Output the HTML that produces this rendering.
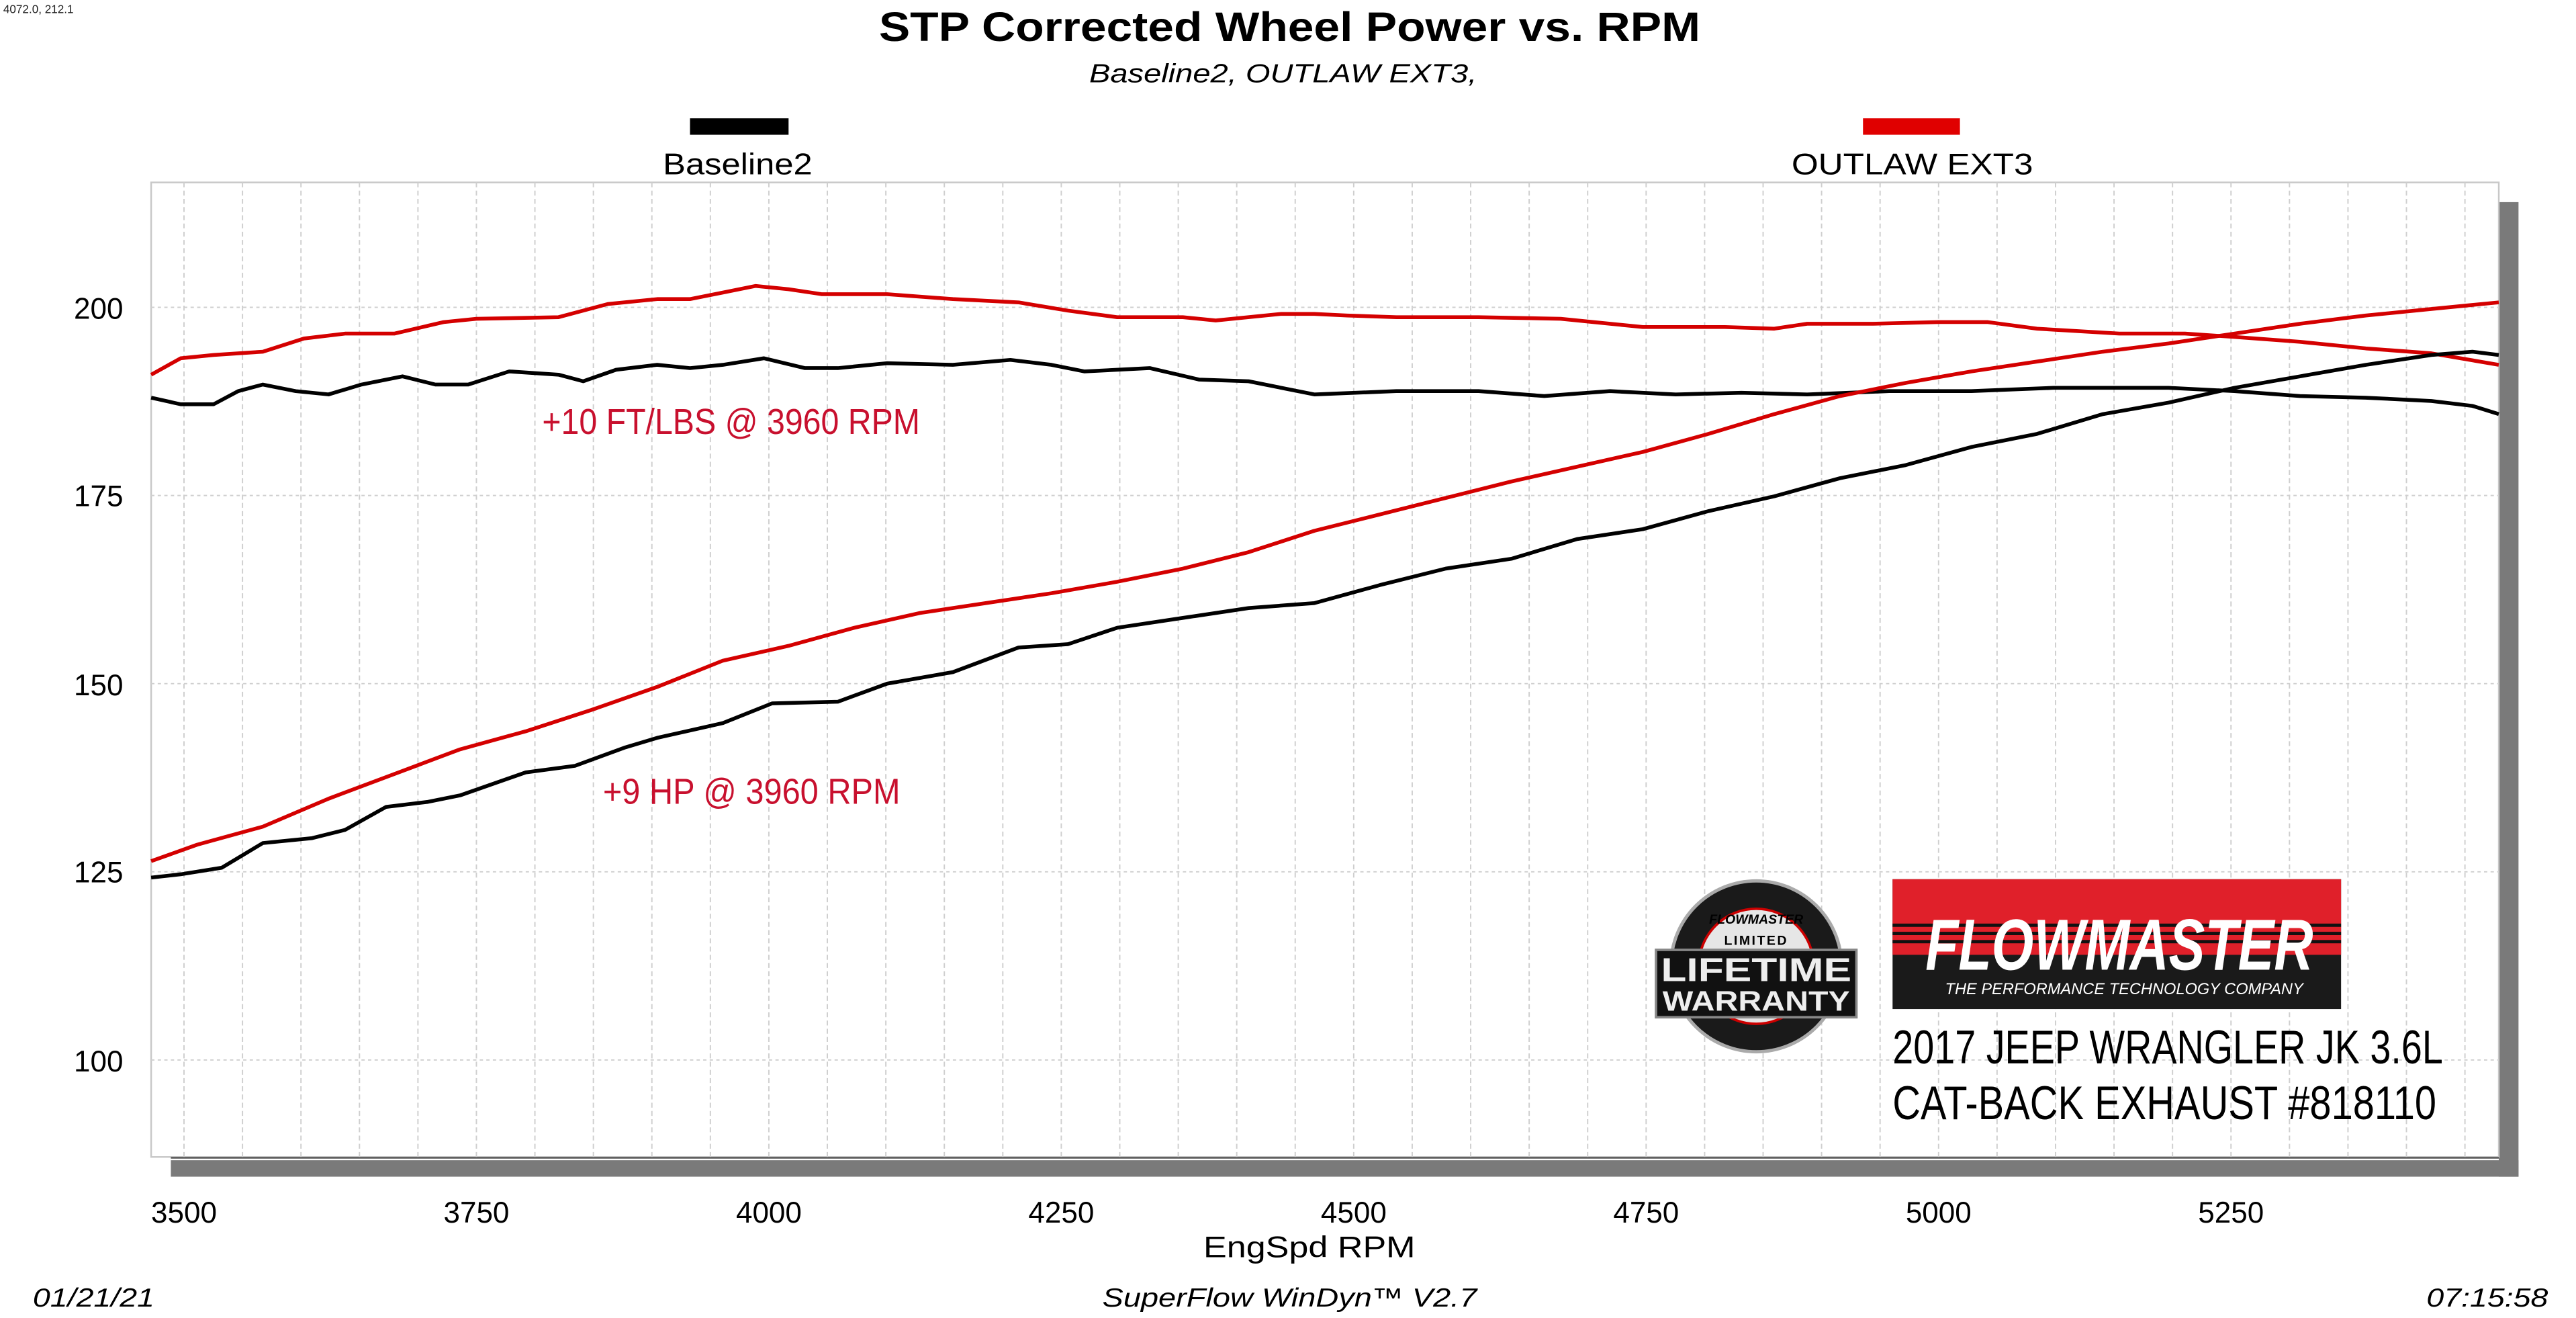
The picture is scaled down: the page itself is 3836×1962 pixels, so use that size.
<!DOCTYPE html>
<html><head><meta charset="utf-8"><style>html,body{margin:0;padding:0;background:#fff}svg{display:block}</style></head>
<body>
<svg width="3836" height="1962" viewBox="0 0 1568 802" preserveAspectRatio="none" xmlns="http://www.w3.org/2000/svg" font-family="Liberation Sans, sans-serif">
<rect width="1568" height="802" fill="#fff"/>
<text x="2" y="8" font-size="7" fill="#222">4072.0, 212.1</text>
<text x="785" y="25" font-size="25" font-weight="bold" text-anchor="middle" textLength="500" lengthAdjust="spacingAndGlyphs">STP Corrected Wheel Power vs. RPM</text>
<text x="781" y="50" font-size="16" font-style="italic" text-anchor="middle" textLength="236" lengthAdjust="spacingAndGlyphs">Baseline2, OUTLAW EXT3,</text>
<rect x="420" y="72" width="60" height="10" fill="#000"/>
<text x="449" y="106" font-size="18" text-anchor="middle" textLength="91" lengthAdjust="spacingAndGlyphs">Baseline2</text>
<rect x="1134" y="72" width="59" height="10" fill="#e00000"/>
<text x="1164" y="106" font-size="18" text-anchor="middle" textLength="147" lengthAdjust="spacingAndGlyphs">OUTLAW EXT3</text>
<rect x="1521" y="123" width="12" height="593" fill="#7a7a7a"/>
<rect x="104" y="706" width="1429" height="10" fill="#7a7a7a"/>
<rect x="92" y="111" width="1429" height="593" fill="#fff" stroke="#c8c8c8" stroke-width="1"/>
<line x1="104" y1="704.5" x2="1521" y2="704.5" stroke="#555" stroke-width="1"/>
<g stroke="#cfcfcf" stroke-width="0.8" stroke-dasharray="3,2">
<line x1="112" y1="111" x2="112" y2="704"/><line x1="147.6" y1="111" x2="147.6" y2="704"/><line x1="183.2" y1="111" x2="183.2" y2="704"/><line x1="218.8" y1="111" x2="218.8" y2="704"/><line x1="254.4" y1="111" x2="254.4" y2="704"/><line x1="290" y1="111" x2="290" y2="704"/><line x1="325.6" y1="111" x2="325.6" y2="704"/><line x1="361.2" y1="111" x2="361.2" y2="704"/><line x1="396.8" y1="111" x2="396.8" y2="704"/><line x1="432.4" y1="111" x2="432.4" y2="704"/><line x1="468" y1="111" x2="468" y2="704"/><line x1="503.6" y1="111" x2="503.6" y2="704"/><line x1="539.2" y1="111" x2="539.2" y2="704"/><line x1="574.8" y1="111" x2="574.8" y2="704"/><line x1="610.4" y1="111" x2="610.4" y2="704"/><line x1="646" y1="111" x2="646" y2="704"/><line x1="681.6" y1="111" x2="681.6" y2="704"/><line x1="717.2" y1="111" x2="717.2" y2="704"/><line x1="752.8" y1="111" x2="752.8" y2="704"/><line x1="788.4" y1="111" x2="788.4" y2="704"/><line x1="824" y1="111" x2="824" y2="704"/><line x1="859.6" y1="111" x2="859.6" y2="704"/><line x1="895.2" y1="111" x2="895.2" y2="704"/><line x1="930.8" y1="111" x2="930.8" y2="704"/><line x1="966.4" y1="111" x2="966.4" y2="704"/><line x1="1002" y1="111" x2="1002" y2="704"/><line x1="1037.6" y1="111" x2="1037.6" y2="704"/><line x1="1073.2" y1="111" x2="1073.2" y2="704"/><line x1="1108.8" y1="111" x2="1108.8" y2="704"/><line x1="1144.4" y1="111" x2="1144.4" y2="704"/><line x1="1180" y1="111" x2="1180" y2="704"/><line x1="1215.6" y1="111" x2="1215.6" y2="704"/><line x1="1251.2" y1="111" x2="1251.2" y2="704"/><line x1="1286.8" y1="111" x2="1286.8" y2="704"/><line x1="1322.4" y1="111" x2="1322.4" y2="704"/><line x1="1358" y1="111" x2="1358" y2="704"/><line x1="1393.6" y1="111" x2="1393.6" y2="704"/><line x1="1429.2" y1="111" x2="1429.2" y2="704"/><line x1="1464.8" y1="111" x2="1464.8" y2="704"/><line x1="1500.4" y1="111" x2="1500.4" y2="704"/>
</g>
<g stroke="#cfcfcf" stroke-width="0.8" stroke-dasharray="2,2">
<line x1="92" y1="187" x2="1521" y2="187"/><line x1="92" y1="301.5" x2="1521" y2="301.5"/><line x1="92" y1="416" x2="1521" y2="416"/><line x1="92" y1="530.5" x2="1521" y2="530.5"/><line x1="92" y1="645" x2="1521" y2="645"/>
</g>
<g font-size="18" text-anchor="end">
<text x="75" y="194">200</text><text x="75" y="308">175</text><text x="75" y="423">150</text><text x="75" y="537">125</text><text x="75" y="652">100</text>
</g>
<g font-size="18" text-anchor="middle">
<text x="112" y="744">3500</text><text x="290" y="744">3750</text><text x="468" y="744">4000</text><text x="646" y="744">4250</text><text x="824" y="744">4500</text><text x="1002" y="744">4750</text><text x="1180" y="744">5000</text><text x="1358" y="744">5250</text>
<text x="797" y="765" textLength="129" lengthAdjust="spacingAndGlyphs">EngSpd  RPM</text>
</g>
<g font-size="16" font-style="italic">
<text x="20" y="795" textLength="74" lengthAdjust="spacingAndGlyphs">01/21/21</text>
<text x="671" y="795" textLength="228" lengthAdjust="spacingAndGlyphs">SuperFlow WinDyn™  V2.7</text>
<text x="1477" y="795" textLength="74" lengthAdjust="spacingAndGlyphs">07:15:58</text>
</g>
<g fill="none" stroke-width="2.3" stroke-linejoin="round">
<polyline stroke="#d40000" points="92,228 110,218 130,216 160,214 185,206 210,203 240,203 270,196 290,194 340,193 370,185 400,182 420,182 440,178 460,174 480,176 500,179 540,179 580,182 620,184 650,189 680,193 720,193 740,195 780,191 800,191 820,192 850,193 900,193 950,194 980,197 1000,199 1050,199 1080,200 1100,197 1140,197 1180,196 1210,196 1240,200 1290,203 1330,203 1360,205 1400,208 1440,212 1480,215 1521,222"/>
<polyline stroke="#000" points="92,242 110,246 130,246 145,238 160,234 180,238 200,240 220,234 245,229 265,234 285,234 310,226 340,228 355,232 375,225 400,222 420,224 440,222 465,218 490,224 510,224 540,221 580,222 615,219 640,222 660,226 700,224 730,231 760,232 800,240 850,238 900,238 940,241 980,238 1020,240 1060,239 1100,240 1150,238 1200,238 1250,236 1280,236 1320,236 1360,238 1400,241 1440,242 1480,244 1505,247 1521,252"/>
<polyline stroke="#d40000" points="92,524 120,514 160,503 200,486 240,471 280,456 320,445 360,432 400,418 440,402 480,393 520,382 560,373 600,367 640,361 680,354 720,346 760,336 800,323 840,313 880,303 920,293 960,284 1000,275 1040,264 1080,252 1120,241 1160,233 1200,226 1240,220 1280,214 1320,209 1360,203 1400,197 1440,192 1480,188 1521,184"/>
<polyline stroke="#000" points="92,534 110,532 135,528 160,513 190,510 210,505 235,491 260,488 280,484 320,470 350,466 380,455 400,449 440,440 470,428 510,427 540,416 580,409 620,394 650,392 680,382 720,376 760,370 800,367 840,356 880,346 920,340 960,328 1000,322 1040,311 1080,302 1120,291 1160,283 1200,272 1240,264 1280,252 1320,245 1360,236 1400,229 1440,222 1480,216 1505,214 1521,216"/>
</g>
<g fill="#c8102e" font-size="22">
<text x="330" y="264" textLength="230" lengthAdjust="spacingAndGlyphs">+10 FT/LBS @ 3960 RPM</text>
<text x="367" y="489" textLength="181" lengthAdjust="spacingAndGlyphs">+9 HP @ 3960 RPM</text>
</g>
<circle cx="1069" cy="588" r="52" fill="#1a1a1a" stroke="#aaa" stroke-width="2"/>
<circle cx="1069" cy="588" r="35" fill="#e6e6e6" stroke="#c00" stroke-width="1.5"/>
<text x="1069" y="562" font-size="8" font-weight="bold" font-style="italic" text-anchor="middle">FLOWMASTER</text>
<text x="1069" y="575" font-size="8" font-weight="bold" text-anchor="middle" letter-spacing="1">LIMITED</text>
<rect x="1008" y="578" width="122" height="41" fill="#111" stroke="#888" stroke-width="1.5"/>
<text x="1069" y="597" font-size="20" font-weight="bold" fill="#eee" text-anchor="middle" textLength="116" lengthAdjust="spacingAndGlyphs">LIFETIME</text>
<text x="1069" y="615" font-size="17" font-weight="bold" fill="#eee" text-anchor="middle" textLength="114" lengthAdjust="spacingAndGlyphs">WARRANTY</text>
<rect x="1152" y="535" width="273" height="79" fill="#1a1a1a"/>
<rect x="1152" y="535" width="273" height="46" fill="#e0202a"/>
<rect x="1152" y="562" width="273" height="2" fill="#111"/>
<rect x="1152" y="567" width="273" height="2" fill="#111"/>
<rect x="1152" y="572" width="273" height="2" fill="#111"/>
<text x="1172" y="590" font-size="44" font-weight="bold" font-style="italic" fill="#fff" textLength="236" lengthAdjust="spacingAndGlyphs">FLOWMASTER</text>
<text x="1184" y="605" font-size="10" font-style="italic" fill="#fff" textLength="218" lengthAdjust="spacingAndGlyphs">THE PERFORMANCE TECHNOLOGY COMPANY</text>
<g font-size="29">
<text x="1152" y="647" textLength="335" lengthAdjust="spacingAndGlyphs">2017 JEEP WRANGLER JK 3.6L</text>
<text x="1152" y="681" textLength="331" lengthAdjust="spacingAndGlyphs">CAT-BACK EXHAUST #818110</text>
</g>
</svg>
</body></html>
